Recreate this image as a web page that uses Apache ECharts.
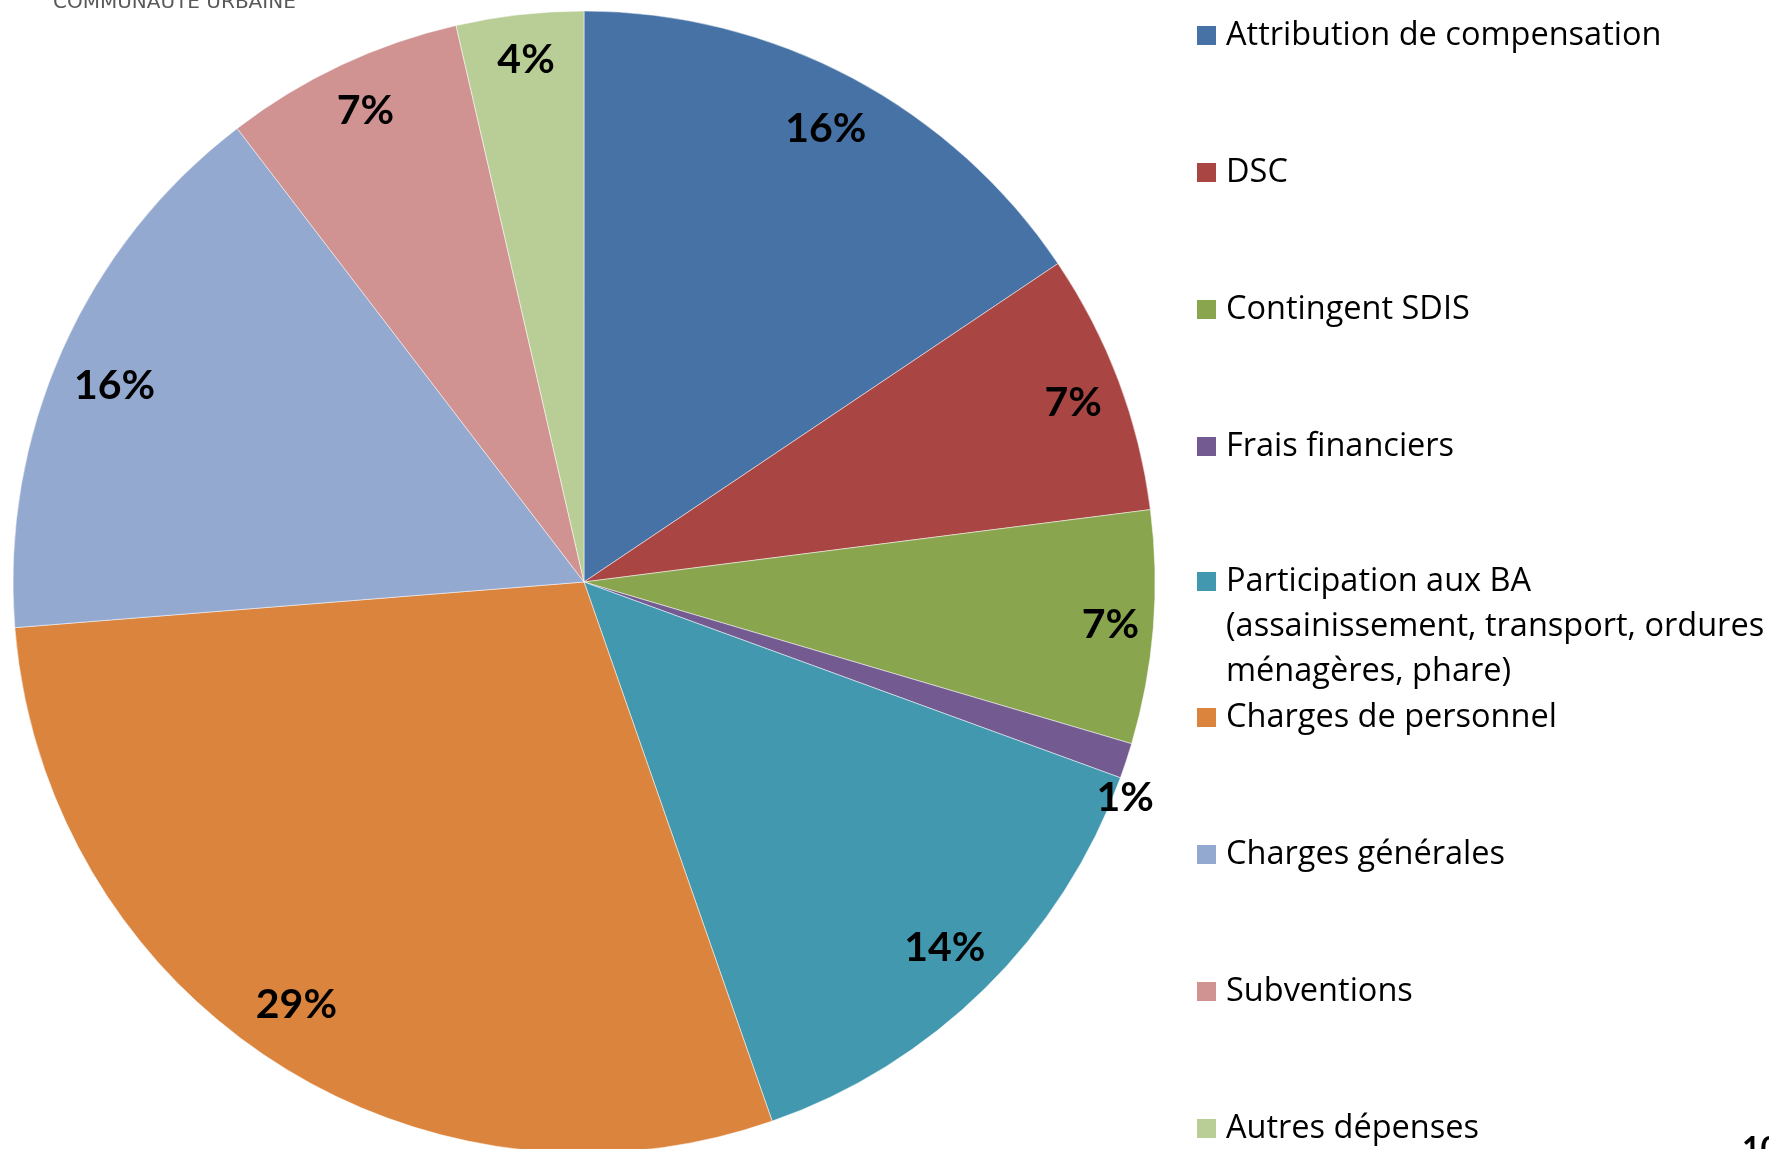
<!DOCTYPE html>
<html>
<head>
<meta charset="utf-8">
<script src="https://cdn.jsdelivr.net/npm/echarts@6/dist/echarts.min.js"></script>
<style>
  html, body { margin: 0; padding: 0; background: #fff; }
  #graf { width: 1769px; height: 1149px; }
</style>
</head>
<body>
<div id="graf"></div>
<script>
// Répartition des dépenses (en % du total)
const categories = [
    'Attribution de compensation',
    'DSC',
    'Contingent SDIS',
    'Frais financiers',
    'Participation aux BA (assainissement, transport, ordures ménagères, phare)',
    'Charges de personnel',
    'Charges générales',
    'Subventions',
    'Autres dépenses'
];
const valeurs = [15.6, 7.4, 6.6, 1.0, 14.1, 29.1, 15.9, 6.8, 3.6];
const couleurs = ['#4672A6', '#A94644', '#89A54E', '#735A91', '#4298AF', '#DB843D', '#94A9CF', '#D19292', '#B9CE96'];

const policeEtiquettes = 'Lato, "Open Sans", sans-serif';
const policeLegende = '"Open Sans", Lato, sans-serif';

const graf = echarts.init(document.getElementById('graf'));

const donnees = categories.map((nom, i) => ({
    name: nom,
    value: valeurs[i],
    itemStyle: { color: couleurs[i] }
}));

// petits décalages pour suivre le placement "ajustement optimal" d'Excel
const decalages = {
    'DSC': [8, 2],
    'Contingent SDIS': [14, 2],
    'Frais financiers': [53, 55],
    'Charges de personnel': [-7, -8],
    'Charges générales': [0, 13],
    'Subventions': [0, -6],
    'Autres dépenses': [0, -11]
};

const donneesEtiquettes = categories.map((nom, i) => {
    const item = { name: nom, value: valeurs[i] };
    if (decalages[nom]) {
        item.label = { offset: decalages[nom] };
    }
    return item;
});

const legendeTexte = {
    color: '#000',
    fontFamily: policeLegende,
    fontSize: 32.5,
    lineHeight: 45,
    padding: [8, 0, 0, 4]
};

const options = {
    animation: false,
    backgroundColor: '#fff',
    graphic: [
        {
            type: 'text',
            left: 53,
            top: -7,
            style: {
                text: 'COMMUNAUTE URBAINE',
                font: '20px "DejaVu Sans", sans-serif',
                fill: '#58595B'
            }
        },
        {
            type: 'text',
            left: 1742,
            top: 1134,
            style: {
                text: '10',
                font: 'bold 32px ' + policeEtiquettes,
                fill: '#000'
            }
        }
    ],
    legend: [
        {
            orient: 'vertical',
            left: 1195,
            top: 9,
            padding: 0,
            itemWidth: 21,
            itemHeight: 21,
            itemGap: 84,
            icon: 'rect',
            selectedMode: false,
            data: categories.slice(0, 4),
            textStyle: legendeTexte
        },
        {
            orient: 'vertical',
            left: 1195,
            top: 465,
            padding: 0,
            itemWidth: 21,
            itemHeight: 21,
            icon: 'rect',
            selectedMode: false,
            data: [categories[4]],
            // deux lignes vides au-dessus pour garder le carré sur la première ligne
            formatter: () => '\n\nParticipation aux BA\n(assainissement, transport, ordures\nménagères, phare)',
            textStyle: legendeTexte
        },
        {
            orient: 'vertical',
            left: 1195,
            top: 691,
            height: 470,
            padding: 0,
            itemWidth: 21,
            itemHeight: 21,
            itemGap: 84,
            icon: 'rect',
            selectedMode: false,
            data: categories.slice(5),
            textStyle: legendeTexte
        }
    ],
    series: [
        {
            name: 'Dépenses',
            type: 'pie',
            center: [584, 582],
            radius: [0, 571],
            startAngle: 90,
            clockwise: true,
            itemStyle: { borderColor: '#fff', borderWidth: 0.5 },
            label: { show: false },
            labelLine: { show: false },
            emphasis: { disabled: true },
            data: donnees
        },
        {
            name: 'Etiquettes',
            type: 'pie',
            center: [584, 582],
            radius: [451, 571],
            startAngle: 90,
            clockwise: true,
            silent: true,
            itemStyle: { color: 'transparent' },
            label: {
                show: true,
                position: 'inside',
                formatter: p => Math.round(p.percent) + '%',
                color: '#000',
                fontFamily: policeEtiquettes,
                fontWeight: 'bold',
                fontSize: 41
            },
            labelLine: { show: false },
            emphasis: { disabled: true },
            data: donneesEtiquettes
        }
    ]
};

graf.setOption(options);
</script>
</body>
</html>
